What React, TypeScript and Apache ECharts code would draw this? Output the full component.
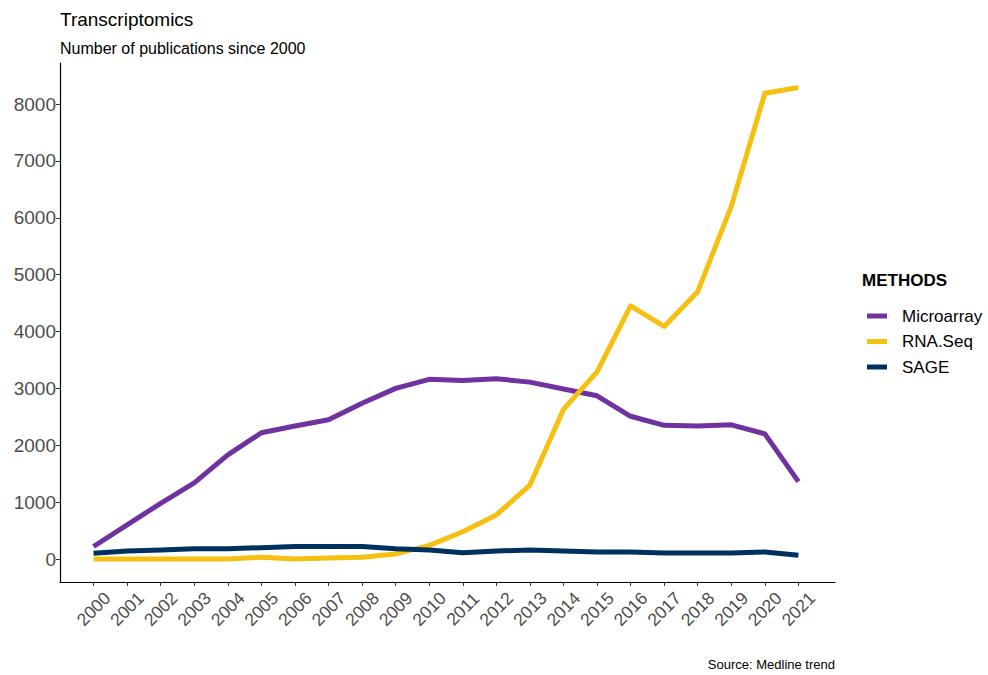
import React, { useEffect, useRef } from "react";
import * as echarts from "echarts";

const years = [2000, 2001, 2002, 2003, 2004, 2005, 2006, 2007, 2008, 2009, 2010, 2011, 2012, 2013, 2014, 2015, 2016, 2017, 2018, 2019, 2020, 2021];
const microarray = [220, 600, 980, 1340, 1830, 2220, 2340, 2450, 2740, 3000, 3160, 3140, 3170, 3110, 2990, 2870, 2510, 2350, 2340, 2360, 2200, 1360];
const rnaSeq = [0, 0, 0, 0, 0, 30, 0, 20, 30, 90, 240, 480, 775, 1300, 2630, 3290, 4450, 4090, 4700, 6200, 8190, 8290];
const sage = [100, 140, 160, 180, 180, 200, 220, 220, 220, 180, 160, 110, 140, 160, 140, 125, 125, 105, 105, 105, 125, 65];
const yTicks = [0, 1000, 2000, 3000, 4000, 5000, 6000, 7000, 8000];
const seriesNames = ["Microarray", "RNA.Seq", "SAGE"];
const colors = ["#7032A0", "#F5C010", "#00305F"];

const FONT = "'Liberation Sans', Arial, sans-serif";

export default function App() {
  const ref = useRef<HTMLDivElement>(null);
  useEffect(() => {
    document.body.style.margin = "0";
    if (!ref.current) return;
    const chart = echarts.init(ref.current, undefined, { renderer: "svg" });
    const datasets = [microarray, rnaSeq, sage];
    chart.setOption({
      animation: false,
      backgroundColor: "#ffffff",
      textStyle: { fontFamily: FONT },
      grid: { left: 60, top: 63, right: 153, bottom: 93, containLabel: false },
      xAxis: {
        type: "value",
        min: 1999,
        max: 2022.09,
        splitLine: { show: false },
        axisLine: { show: true, onZero: false, lineStyle: { color: "#000", width: 1.2 } },
        axisTick: { show: true, length: 4, customValues: years, lineStyle: { color: "#333" } },
        axisLabel: {
          customValues: years,
          rotate: 45,
          align: "center",
          verticalAlign: "middle",
          margin: 27,
          fontSize: 17.5,
          color: "#4D4D4D",
          fontFamily: FONT,
          formatter: (v: number) => String(v),
        },
      },
      yAxis: {
        type: "value",
        min: -404,
        max: 8721,
        splitLine: { show: false },
        axisLine: { show: true, onZero: false, lineStyle: { color: "#000", width: 1.2 } },
        axisTick: { show: true, length: 4, customValues: yTicks, lineStyle: { color: "#333" } },
        axisLabel: {
          customValues: yTicks,
          margin: 4,
          fontSize: 19,
          color: "#4D4D4D",
          fontFamily: FONT,
          formatter: (v: number) => String(v),
        },
      },
      legend: {
        orient: "vertical",
        left: 862,
        top: 301,
        itemWidth: 20,
        itemHeight: 5,
        itemGap: 5.5,
        icon: "rect",
        data: seriesNames,
        textStyle: { fontSize: 17, lineHeight: 20, color: "#000", fontFamily: FONT, padding: [0, 0, 0, 10] },
      },
      series: seriesNames.map((name, i) => ({
        name,
        type: "line",
        data: years.map((y, j) => [y, datasets[i][j]]),
        showSymbol: false,
        symbol: "none",
        color: colors[i],
        lineStyle: { width: 5, color: colors[i], join: "round" },
      })),
      graphic: [
        { type: "text", left: 60, top: 10, style: { text: "Transcriptomics", font: `19px ${FONT}`, fill: "#000" } },
        { type: "text", left: 60, top: 40, style: { text: "Number of publications since 2000", font: `16px ${FONT}`, fill: "#000" } },
        { type: "text", left: 862, top: 272, style: { text: "METHODS", font: `bold 17px ${FONT}`, fill: "#000" } },
        { type: "text", right: 153, top: 658, style: { text: "Source: Medline trend", font: `13px ${FONT}`, fill: "#000" } },
      ],
    });
    return () => chart.dispose();
  }, []);
  return <div ref={ref} style={{ width: 988, height: 675 }} />;
}
